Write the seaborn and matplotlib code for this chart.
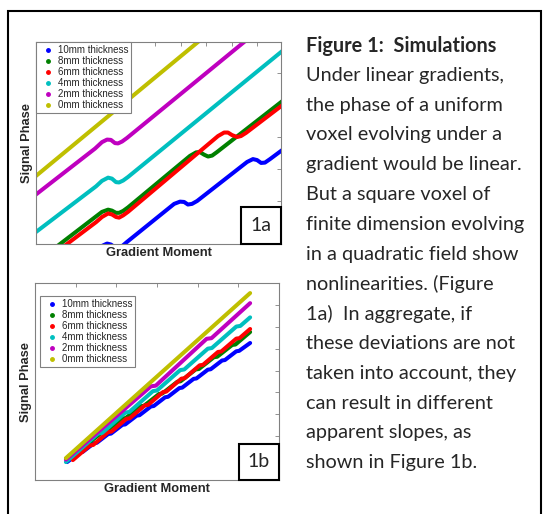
import pandas as pd
import seaborn as sns
import matplotlib.pyplot as plt
from matplotlib.lines import Line2D
from matplotlib.patches import Rectangle

# Series names and colours (MATLAB style)
labels = ["10mm thickness", "8mm thickness", "6mm thickness",
          "4mm thickness", "2mm thickness", "0mm thickness"]
colors = ["#0000ff", "#008000", "#ff0000", "#00bfbf", "#bf00bf", "#bfbf00"]

# Figure 1a - phase vs gradient moment
a_x_10 = [1.65, 1.88, 2.12, 2.27, 2.43, 2.55, 2.71, 2.90, 4.75, 4.98, 5.14, 5.29,
          5.45, 5.65, 7.61, 7.84, 8.00, 8.16, 8.31, 8.51, 9.10]
a_y_10 = [-0.61, -0.42, -0.33, -0.36, -0.45, -0.47, -0.41, -0.28, 0.91, 0.98, 0.97, 0.89,
          0.91, 1.00, 2.22, 2.31, 2.28, 2.19, 2.20, 2.31, 2.66]
a_x_8 = [0.12, 1.69, 1.92, 2.16, 2.31, 2.47, 2.59, 2.75, 2.94, 5.37, 5.61, 5.76,
         5.92, 6.08, 6.24, 6.43, 9.10]
a_y_8 = [-0.44, 0.52, 0.66, 0.73, 0.70, 0.63, 0.63, 0.69, 0.80, 2.41, 2.52, 2.53,
         2.45, 2.39, 2.42, 2.53, 4.19]
a_x_6 = [0.39, 1.69, 1.92, 2.16, 2.31, 2.47, 2.59, 2.75, 2.94, 6.47, 6.71, 6.86,
         7.02, 7.22, 7.37, 7.57, 9.10]
a_y_6 = [-0.44, 0.34, 0.50, 0.61, 0.58, 0.50, 0.48, 0.55, 0.66, 3.03, 3.14, 3.14,
         3.06, 3.00, 3.03, 3.13, 4.06]
a_x_4 = [-0.90, 1.69, 1.92, 2.16, 2.31, 2.47, 2.59, 2.75, 2.94, 9.10]
a_y_4 = [-0.11, 1.46, 1.63, 1.73, 1.70, 1.59, 1.58, 1.64, 1.75, 5.76]
a_x_2 = [-0.90, 1.65, 1.92, 2.12, 2.27, 2.43, 2.55, 2.71, 2.90, 7.57]
a_y_2 = [1.06, 2.64, 2.84, 2.92, 2.91, 2.81, 2.80, 2.86, 2.97, 6.02]
a_x_0 = [-0.90, 5.76]
a_y_0 = [1.63, 6.02]

# Figure 1b - aggregate, apparent slopes
b_x_10 = [0.79, 1.10, 1.17, 1.45, 1.52, 1.80, 1.87, 2.15, 2.22, 2.50, 2.57, 2.85, 2.92,
          3.20, 3.27, 3.55, 3.62, 3.90, 3.97, 4.25, 4.32, 4.60, 4.67, 4.95, 5.02, 5.29]
b_y_10 = [0.82, 1.26, 1.28, 1.68, 1.70, 2.10, 2.12, 2.52, 2.54, 2.94, 2.96, 3.36, 3.38,
          3.78, 3.80, 4.20, 4.22, 4.62, 4.64, 5.04, 5.06, 5.46, 5.48, 5.88, 5.90, 6.26]
b_x_8 = [0.76, 1.25, 1.33, 1.70, 1.78, 2.15, 2.23, 2.60, 2.68, 3.05, 3.13, 3.50, 3.58,
         3.95, 4.03, 4.40, 4.48, 4.85, 4.93, 5.29]
b_y_8 = [0.97, 1.69, 1.71, 2.25, 2.27, 2.81, 2.83, 3.37, 3.39, 3.93, 3.95, 4.49, 4.51,
         5.05, 5.07, 5.61, 5.63, 6.17, 6.19, 6.76]
b_x_6 = [0.93, 1.35, 1.43, 1.80, 1.88, 2.25, 2.33, 2.70, 2.78, 3.15, 3.23, 3.60, 3.68,
         4.05, 4.13, 4.50, 4.58, 4.95, 5.03, 5.29]
b_y_6 = [0.91, 1.58, 1.60, 2.19, 2.21, 2.80, 2.82, 3.41, 3.43, 4.02, 4.04, 4.63, 4.65,
         5.24, 5.26, 5.85, 5.87, 6.46, 6.48, 6.90]
b_x_4 = [0.76, 1.55, 1.65, 2.22, 2.32, 2.90, 3.00, 3.57, 3.67, 4.25, 4.35, 4.95, 5.05, 5.29]
b_y_4 = [0.82, 2.12, 2.15, 3.08, 3.11, 4.06, 4.09, 5.02, 5.05, 6.00, 6.03, 7.01, 7.04, 7.43]
b_x_2 = [0.76, 2.85, 2.97, 4.22, 4.34, 5.29]
b_y_2 = [0.93, 4.28, 4.31, 6.45, 6.48, 8.08]
b_x_0 = [0.76, 5.29]
b_y_0 = [1.00, 8.54]

text_lines = [
    "Figure 1:  Simulations",
    "Under linear gradients,",
    "the phase of a uniform",
    "voxel evolving under a",
    "gradient would be linear.",
    "But a square voxel of",
    "finite dimension evolving",
    "in a quadratic field show",
    "nonlinearities. (Figure",
    "1a)  In aggregate, if",
    "these deviations are not",
    "taken into account, they",
    "can result in different",
    "apparent slopes, as",
    "shown in Figure 1b.",
]


def to_frame(xs, ys):
    parts = []
    for lab, x, y in zip(labels, xs, ys):
        parts.append(pd.DataFrame({"moment": x, "phase": y, "thickness": lab}))
    return pd.concat(parts, ignore_index=True)


df_a = to_frame([a_x_10, a_x_8, a_x_6, a_x_4, a_x_2, a_x_0],
                [a_y_10, a_y_8, a_y_6, a_y_4, a_y_2, a_y_0])
df_b = to_frame([b_x_10, b_x_8, b_x_6, b_x_4, b_x_2, b_x_0],
                [b_y_10, b_y_8, b_y_6, b_y_4, b_y_2, b_y_0])

sns.set_style("white")
plt.rcParams["font.family"] = ["Liberation Sans", "DejaVu Sans"]

fig = plt.figure(figsize=(5.5, 5.14), dpi=100)
W, H = 550.0, 514.0


def make_axes(l, t, r, b):
    return fig.add_axes([l / W, 1 - b / H, (r - l) / W, (b - t) / H])


ax1 = make_axes(36, 42, 281, 244)
ax2 = make_axes(35, 283, 279, 480)

palette = dict(zip(labels, colors))
for ax, df in [(ax1, df_a), (ax2, df_b)]:
    sns.lineplot(data=df, x="moment", y="phase", hue="thickness", palette=palette,
                 hue_order=labels, sort=False, estimator=None, linewidth=2.9,
                 legend=False, ax=ax)

ax1.set_xlim(-0.667, 8.94)
ax1.set_ylim(-0.344, 5.97)
ax1.set_xticks(range(0, 9))
ax1.set_yticks(range(0, 6))
ax2.set_xlim(0, 6)
ax2.set_ylim(0, 9)
ax2.set_xticks(range(1, 6))
ax2.set_yticks(range(1, 9))

handles = [Line2D([], [], marker=".", ls="none", color=c, markersize=5) for c in colors]

for ax, tag, anchor in [(ax1, "1a", (0, 1)), (ax2, "1b", (0.02, 0.934))]:
    for s in ax.spines.values():
        s.set_color("#808080")
        s.set_linewidth(0.8)
    ax.tick_params(direction="in", length=3, width=0.6, colors="#808080",
                   top=True, right=True, labelbottom=False, labelleft=False)
    ax.set_xlabel("Gradient Moment", fontsize=9.3, fontweight="bold", labelpad=2.5)
    ax.set_ylabel("Signal Phase", fontsize=9.3, fontweight="bold", labelpad=2.5)
    leg = ax.legend(handles, labels, loc="upper left", bbox_to_anchor=anchor,
                    borderaxespad=0, fancybox=False, framealpha=1, edgecolor="#808080",
                    fontsize=7, handlelength=1.8, handletextpad=0.15,
                    labelspacing=0.11, borderpad=0.3)
    leg.get_frame().set_linewidth(0.8)
    ax.add_patch(Rectangle((0.835, 0), 0.165, 0.185, transform=ax.transAxes,
                           fc="white", ec="black", lw=1.5, zorder=5, clip_on=False))
    ax.text(0.9175, 0.0925, tag, transform=ax.transAxes, ha="center", va="center",
            fontsize=14, family=["Lato", "DejaVu Sans"], zorder=6)

# Caption text on the right
for i, line in enumerate(text_lines):
    fig.text(306 / W, 1 - (45.5 + i * 29.8) / H, line, ha="left", va="center",
             fontsize=14.3, family=["Lato", "DejaVu Sans"],
             fontweight="bold" if i == 0 else "normal")

# Outer frame
fig.add_artist(Rectangle((8 / W, -0.02), (541 - 8) / W, 1 - 11 / H + 0.02,
                         transform=fig.transFigure, fill=False, ec="black", lw=1.5))

fig.savefig("out.png", dpi=100)
